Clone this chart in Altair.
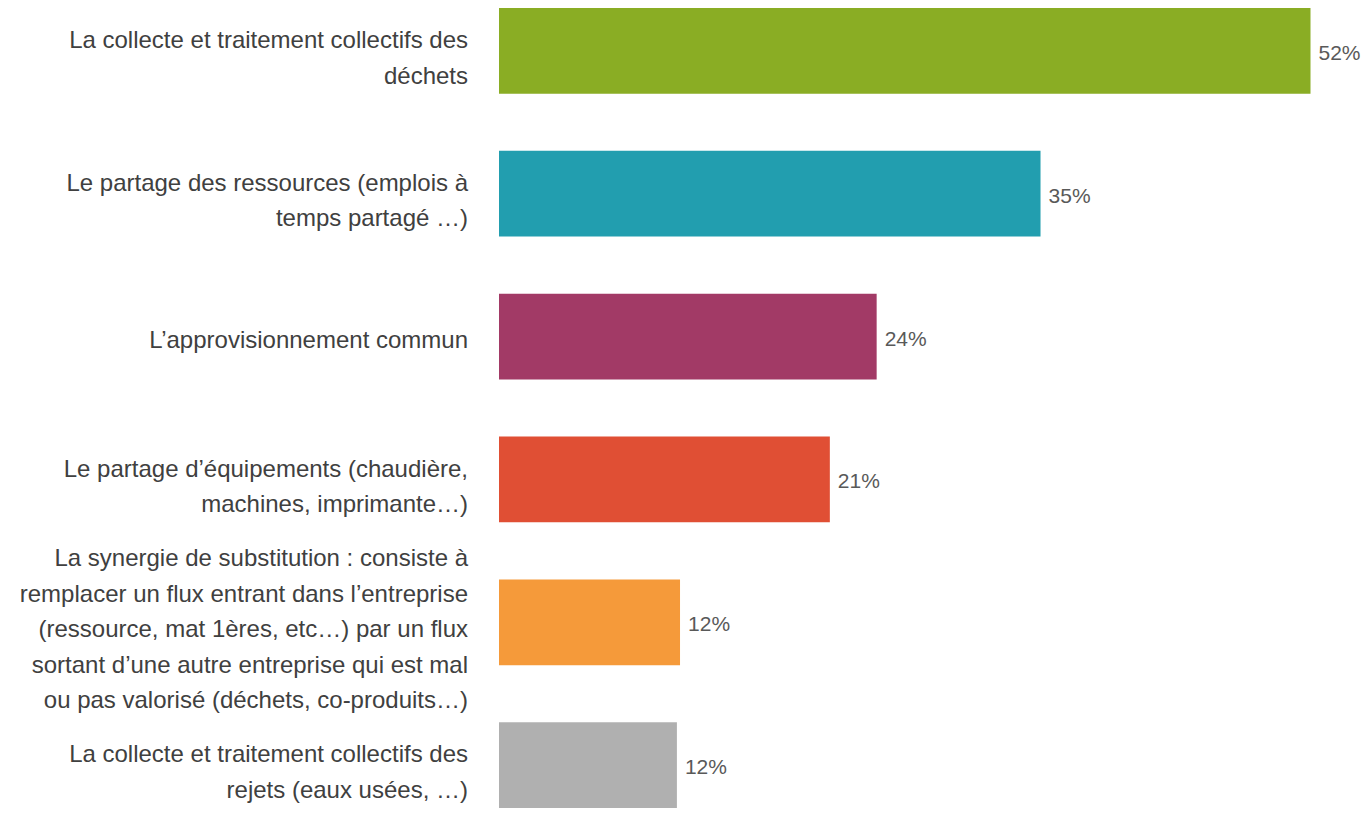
import altair as alt
import pandas as pd

categories = [
    "La collecte et traitement collectifs des|déchets",
    "Le partage des ressources (emplois à|temps partagé …)",
    "L’approvisionnement commun",
    "Le partage d’équipements (chaudière,|machines, imprimante…)",
    "La synergie de substitution : consiste à|remplacer un flux entrant dans l’entreprise|(ressource, mat 1ères, etc…) par un flux|sortant d’une autre entreprise qui est mal|ou pas valorisé (déchets, co-produits…)",
    "La collecte et traitement collectifs des|rejets (eaux usées, …)",
]
values = [52, 34.7, 24.2, 21.2, 11.6, 11.4]
value_labels = ["52%", "35%", "24%", "21%", "12%", "12%"]
colors = ["#8aad24", "#229eaf", "#a23a66", "#e04f34", "#f59a3a", "#b0b0b0"]

df = pd.DataFrame({"cat": categories, "val": values, "lab": value_labels, "color": colors})

LH = 35.5
HEIGHT = 800
PAD_INNER = 0.4
HALF_BAND = HEIGHT / (len(categories) - PAD_INNER) * (1 - PAD_INNER) / 2

y = alt.Y(
    "cat:N",
    sort=None,
    scale=alt.Scale(paddingInner=PAD_INNER, paddingOuter=0),
    axis=None,
)
x = alt.X("val:Q", scale=alt.Scale(domain=[0, 55.3]), axis=None)

base = alt.Chart(df)

bars = base.mark_bar().encode(
    x=x, y=y, color=alt.Color("color:N", scale=None)
)
text = base.mark_text(
    align="left", baseline="middle", dx=8, dy=3, font="Liberation Sans", fontSize=21, color="#595959"
).encode(x=x, y=y, text="lab:N")

cat_labels = (
    base.transform_calculate(
        lines="split(datum.cat, '|')",
    )
    .transform_calculate(
        yoff=f"{HALF_BAND} + (length(datum.lines) > 1 ? 15 - (length(datum.lines) - 1) * {LH / 2} : 11.5)"
    )
    .mark_text(
        align="right",
        baseline="alphabetic",
        font="Liberation Sans",
        fontSize=24,
        color="#404040",
        lineHeight=LH,
    )
    .encode(
        x=alt.value(-31),
        y=y,
        yOffset=alt.YOffset("yoff:Q", scale=None),
        text="lines:N",
    )
)

chart = (
    alt.layer(bars, text, cat_labels)
    .properties(
        width=863,
        height=HEIGHT,
        padding={"left": 491, "top": 0, "right": 0, "bottom": 0},
        autosize="none",
    )
    .configure_view(stroke=None)
)

chart.save("out.html", embed_options={"renderer": "svg", "actions": False})
